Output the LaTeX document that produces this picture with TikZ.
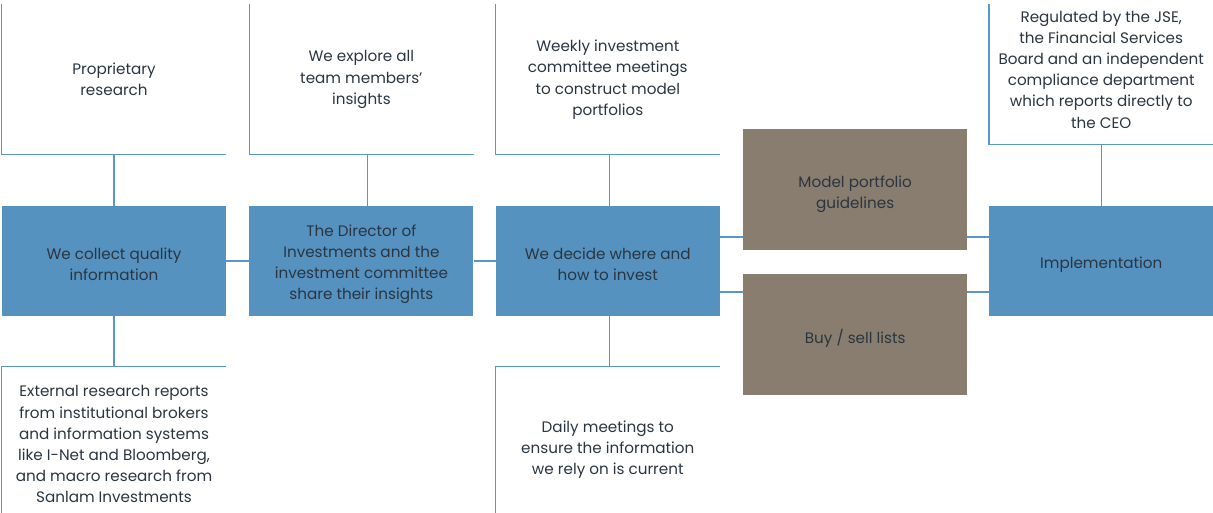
\documentclass[tikz,border=0pt]{standalone}
\usepackage{fontspec}
\setmainfont{Poppins}
\usetikzlibrary{positioning}
\definecolor{stepblue}{HTML}{5592BF}
\definecolor{stepbrown}{HTML}{897D6F}
\definecolor{linkblue}{HTML}{5A97C9}
\definecolor{inktext}{HTML}{2A3540}
\newcommand{\padtop}[1][18.5pt]{\rule{0pt}{#1}}
\begin{document}
\begin{tikzpicture}[x=1pt, y=1pt, node distance=22.5pt,
        every node/.style={font=\fontsize{15.2}{21.2}\selectfont, text=inktext, align=center},
        main/.style={rectangle, fill=stepblue, minimum width=224pt, minimum height=110pt, inner sep=0pt},
        guide/.style={rectangle, fill=stepbrown, minimum width=224pt, minimum height=121pt, inner sep=0pt},
        note/.style={rectangle, minimum width=224pt, minimum height=150pt, inner sep=0pt},
        link/.style={draw=linkblue, line width=1.3pt}]
        \useasboundingbox (0,0) rectangle (1213,-513);
        \node[main] (1) at (114,-261) {\padtop We collect quality\\information};
        \node[main] (2) [right=23pt of 1] {\padtop The Director of\\Investments and the\\investment committee\\share their insights};
        \node[main] (3) [right=22pt of 2] {\padtop We decide where and\\how to invest};
        \node[guide] (4) [right=23pt of 3, yshift=71.5pt] {\padtop[20.5pt]Model portfolio\\guidelines};
        \node[guide] (5) [right=23pt of 3, yshift=-73pt] {\padtop[22.5pt]Buy / sell lists};
        \node[main] (6) [right=269pt of 3] {\padtop Implementation};
        \node[note] (7) [above=51pt of 1] {Proprietary\\research};
        \node[note] (8) [above=51pt of 2] {We explore all\\team members’\\insights};
        \node[note] (9) [above=51pt of 3] {Weekly investment\\committee meetings\\to construct model\\portfolios};
        \node[note] (10) [above=61pt of 6] {Regulated by the JSE,\\the Financial Services\\Board and an independent\\compliance department\\which reports directly to\\the CEO};
        \node[note, minimum height=156pt] (11) [below=50pt of 1] {External research reports\\from institutional brokers\\and information systems\\like I-Net and Bloomberg,\\and macro research from\\Sanlam Investments};
        \node[note, minimum height=166pt] (12) [below=50pt of 3] {Daily meetings to\\ensure the information\\we rely on is current};
        % open brackets round the notes
        \draw[link] (7.north west) |- (7.south east);
        \draw[link] (8.north west) |- (8.south east);
        \draw[link] (9.north west) |- (9.south east);
        \draw[link] ([yshift=-10pt]10.north west) |- (10.south east);
        \draw[link] (11.south west) |- (11.north east);
        \draw[link] (12.south west) |- (12.north east);
        % connectors
        \draw[link] (7) -- (1);
        \draw[link] ([xshift=6pt]8.south) -- ([xshift=6pt]2.north);
        \draw[link] ([xshift=2pt]9.south) -- ([xshift=2pt]3.north);
        \draw[link] (10) -- (6);
        \draw[link] (1) -- (11);
        \draw[link] ([xshift=2pt]3.south) -- ([xshift=2pt]12.north);
        \draw[link] (1) -- (2);
        \draw[link] (2) -- (3);
        \draw[link] ([yshift=24pt]3.east) -- ([yshift=24pt]3.east -| 4.west);
        \draw[link] ([yshift=-31pt]3.east) -- ([yshift=-31pt]3.east -| 5.west);
        \draw[link] ([yshift=24pt]6.west) -- ([yshift=24pt]6.west -| 4.east);
        \draw[link] ([yshift=-31pt]6.west) -- ([yshift=-31pt]6.west -| 5.east);
    \end{tikzpicture}
\end{document}
